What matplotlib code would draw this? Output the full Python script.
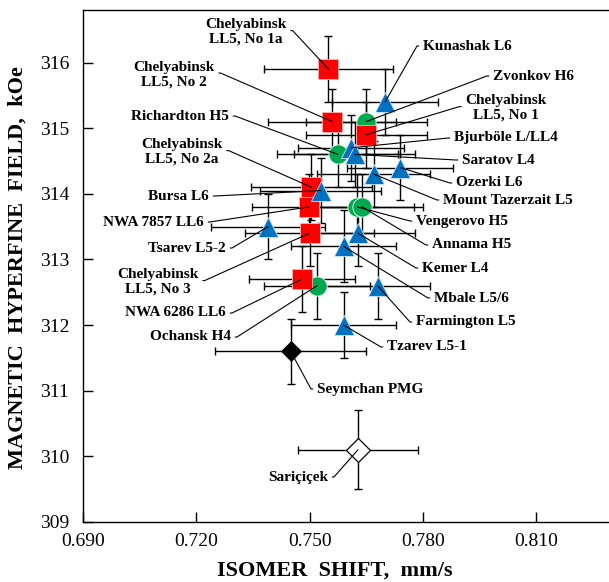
import numpy as np
import matplotlib
matplotlib.use("Agg")
import matplotlib.pyplot as plt

# ─── Data ────────────────────────────────────────────────────────────────────
names = ["Chelyabinsk\nLL5, No 1a", "Chelyabinsk\nLL5, No 2", "Richardton H5",
         "Zvonkov H6", "Chelyabinsk\nLL5, No 1", "Kunashak L6", "Bjurböle L/LL4",
         "Saratov L4", "Ozerki L6", "Mount Tazerzait L5", "Chelyabinsk\nLL5, No 2a",
         "Bursa L6", "NWA 7857 LL6", "Vengerovo H5", "Annama H5", "Tsarev L5-2",
         "Chelyabinsk\nLL5, No 3", "Kemer L4", "Mbale L5/6", "NWA 6286 LL6",
         "Ochansk H4", "Farmington L5", "Tzarev L5-1", "Seymchan PMG", "Sariçiçek"]
iso_shift = [0.755, 0.756, 0.7575, 0.765, 0.765, 0.770, 0.761,
             0.762, 0.774, 0.767, 0.7505,
             0.753, 0.7498, 0.7626, 0.7639, 0.739,
             0.750, 0.7628, 0.759, 0.748,
             0.752, 0.768, 0.759, 0.745, 0.7628]
hf_field = [315.9, 315.1, 314.6, 315.1, 314.9, 315.4, 314.7,
            314.6, 314.4, 314.3, 314.1,
            314.05, 313.8, 313.8, 313.8, 313.5,
            313.4, 313.4, 313.2, 312.7,
            312.6, 312.6, 312.0, 311.6, 310.1]
iso_err = [0.017, 0.017, 0.016, 0.016, 0.016, 0.014, 0.014,
           0.016, 0.014, 0.015, 0.016,
           0.016, 0.015, 0.015, 0.016, 0.015,
           0.017, 0.015, 0.014, 0.014,
           0.014, 0.014, 0.014, 0.020, 0.016]
hf_err = [0.5, 0.5, 0.5, 0.5, 0.5, 0.5, 0.5,
          0.5, 0.5, 0.5, 0.5,
          0.5, 0.5, 0.5, 0.5, 0.5,
          0.5, 0.5, 0.55, 0.5,
          0.5, 0.5, 0.5, 0.5, 0.6]
# class: H = green circle, LL = red square, L = blue triangle, PMG / Sariçiçek diamonds
kind = ["LL", "LL", "H", "H", "LL", "L", "L",
        "L", "L", "L", "LL",
        "L", "LL", "H", "H", "L",
        "LL", "L", "L", "LL",
        "H", "L", "L", "PMG", "HED"]

# ─── Label layout (figure pixels, image y measured from top) ─────────────────
label_pos = {
    "Chelyabinsk\nLL5, No 1a": (246, 32, "center", (1.0, 0.55), 0),
    "Chelyabinsk\nLL5, No 2": (174, 75, "center", (1.0, 0.57), 0),
    "Richardton H5": (229, 116, "right", (1.0, 0.5), 0),
    "Chelyabinsk\nLL5, No 2a": (182, 152, "center", (1.0, 0.55), 0),
    "Bursa L6": (209, 196, "right", (1.0, 0.5), 0),
    "NWA 7857 LL6": (204, 222, "right", (1.0, 0.5), 0),
    "Tsarev L5-2": (226, 248, "right", (1.0, 0.5), 0),
    "Chelyabinsk\nLL5, No 3": (158, 282, "center", (1.0, 0.55), 0),
    "NWA 6286 LL6": (226, 313, "right", (1.0, 0.5), 0),
    "Ochansk H4": (231, 337, "right", (1.0, 0.5), 0),
    "Seymchan PMG": (317, 389, "left", (0.0, 0.5), 180),
    "Sariçiçek": (328, 477, "right", (1.0, 0.5), 0),
    "Kunashak L6": (423, 46, "left", (0.0, 0.5), 180),
    "Zvonkov H6": (493, 76, "left", (0.0, 0.5), 180),
    "Chelyabinsk\nLL5, No 1": (506, 108, "center", (0.0, 0.55), 180),
    "Bjurböle L/LL4": (454, 138, "left", (0.0, 0.5), 180),
    "Saratov L4": (462, 160, "left", (0.0, 0.5), 180),
    "Ozerki L6": (456, 183, "left", (0.0, 0.5), 180),
    "Mount Tazerzait L5": (443, 200, "left", (0.0, 0.5), 180),
    "Vengerovo H5": (416, 221, "left", (0.0, 0.5), 180),
    "Annama H5": (432, 245, "left", (0.0, 0.5), 180),
    "Kemer L4": (422, 268, "left", (0.0, 0.5), 180),
    "Mbale L5/6": (434, 298, "left", (0.0, 0.5), 180),
    "Farmington L5": (416, 322, "left", (0.0, 0.5), 180),
    "Tzarev L5-1": (387, 347, "left", (0.0, 0.5), 180),
}

styles = {
    "H":   dict(marker="o", ms=13.9, mfc="#00A850", mec="white", mew=0.6),
    "LL":  dict(marker="s", ms=14.4, mfc="#FF0000", mec="#ffb0b0", mew=0.6),
    "L":   dict(marker="^", ms=14.2, mfc="#0070C0", mec="#cfe6ff", mew=0.6),
    "PMG": dict(marker="D", ms=10.4, mfc="black", mec="black", mew=0.6),
    "HED": dict(marker="D", ms=12.3, mfc="white", mec="black", mew=0.9),
}
draw_order = ["H", "LL", "L", "PMG", "HED"]

W, H = 609, 582
plt.rcParams['font.family'] = ['Liberation Serif', 'DejaVu Serif']

fig = plt.figure(figsize=(W / 100, H / 100), dpi=100)
ax = fig.add_axes([83 / W, 1 - 522 / H, (W - 83) / W, 512 / H])

x = np.array(iso_shift)
y = np.array(hf_field)

# error bars first, markers on top
ax.errorbar(x, y, xerr=iso_err, yerr=hf_err, fmt="none", ecolor="black",
            elinewidth=1.0, capsize=3, capthick=1.0, zorder=2)

for k in draw_order:
    idx = [i for i, kk in enumerate(kind) if kk == k]
    ax.plot(x[idx], y[idx], linestyle="none", zorder=3, **styles[k])

# labels with leader lines
for i, nm in enumerate(names):
    px, py, ha, rel, angA = label_pos[nm]
    ax.annotate(nm, xy=(x[i], y[i]), xycoords="data",
                xytext=(px, H - py), textcoords="figure pixels",
                ha=ha, va="center", fontsize=11, fontweight="bold",
                multialignment="center", zorder=5,
                arrowprops=dict(arrowstyle="-", color="black", lw=0.8,
                                shrinkA=1, shrinkB=0, relpos=rel,
                                connectionstyle=f"arc,angleA={angA},armA=6,angleB=0,armB=0,rad=0"))

ax.set_xlim(0.690, 0.690 + (W - 83) * 0.0002648)
ax.set_ylim(309, 316.8)
ax.set_xticks([0.690, 0.720, 0.750, 0.780, 0.810])
ax.set_xticklabels(["0.690", "0.720", "0.750", "0.780", "0.810"])
ax.set_yticks(np.arange(309, 317, 1))
ax.tick_params(direction="in", length=7, width=1.0, labelsize=14)
ax.tick_params(axis="x", pad=8)
ax.tick_params(axis="y", pad=10)
ax.spines["right"].set_visible(False)
for s in ["left", "bottom", "top"]:
    ax.spines[s].set_linewidth(1.0)

fig.text(335 / W, 1 - 571 / H, "ISOMER  SHIFT,  mm/s", ha="center", va="center",
         fontsize=16, fontweight="bold")
fig.text(18 / W, 1 - 268 / H, "MAGNETIC  HYPERFINE  FIELD,  kOe", ha="center",
         va="center", rotation=90, fontsize=16, fontweight="bold")

fig.savefig("out.png", dpi=100)
